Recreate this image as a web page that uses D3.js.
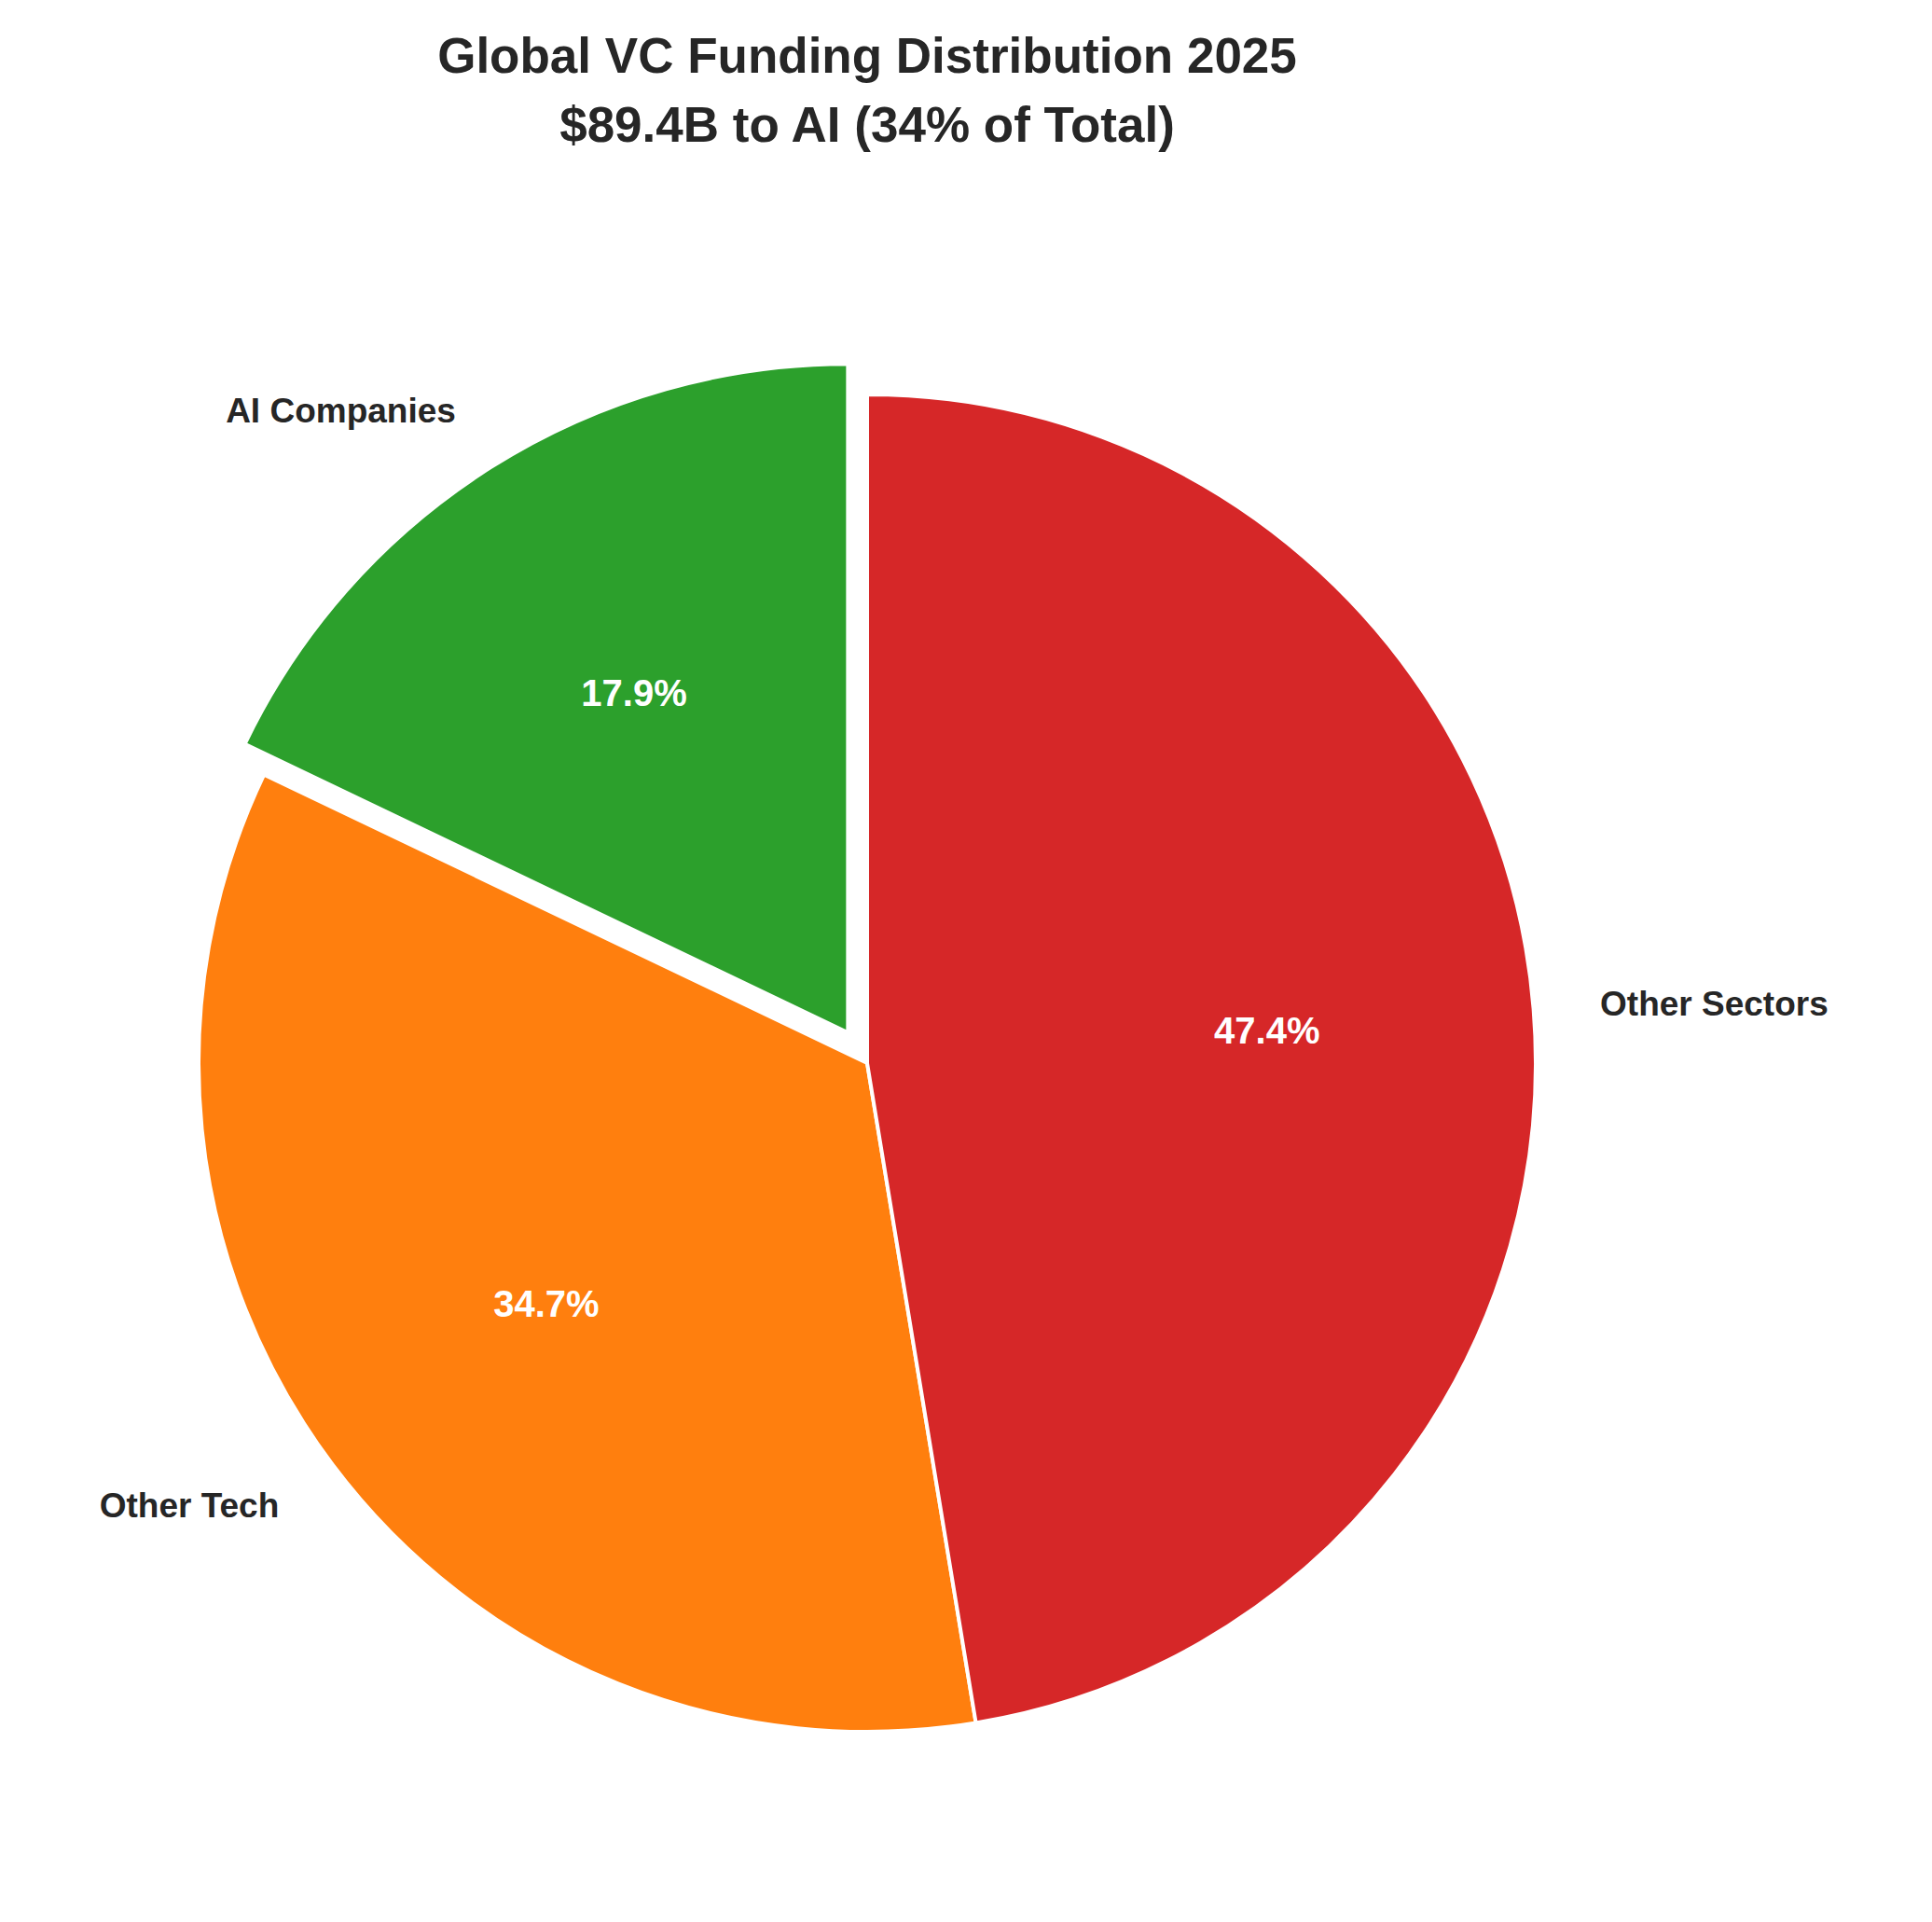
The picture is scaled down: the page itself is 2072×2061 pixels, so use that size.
<!DOCTYPE html><html><head><meta charset="utf-8"><script src="https://cdn.jsdelivr.net/npm/d3@7"></script>
<style>body{margin:0;background:#fff}</style></head><body><script>
const categories=["AI Companies","Other Tech","Other Sectors"];
const values=[17.9,34.7,47.4];
const colors=["#2ca02c","#ff7f0e","#d62728"];
const explode=[0.05,0,0];
const W=2072,H=2061,cx=930,cy=1140,r=717;
const svg=d3.select("body").append("svg").attr("width",W).attr("height",H).style("font-family","'Liberation Sans',Arial,sans-serif");
svg.append("text").attr("x",cx).attr("y",78).attr("text-anchor","middle").attr("font-size",53).attr("font-weight","bold").attr("fill","#262626").text("Global VC Funding Distribution 2025");
svg.append("text").attr("x",cx).attr("y",152).attr("text-anchor","middle").attr("font-size",53).attr("font-weight","bold").attr("fill","#262626").text("$89.4B to AI (34% of Total)");
const pie=d3.pie().sort(null).startAngle(0).endAngle(-2*Math.PI);
const arcs=pie(values);
const arc=d3.arc().innerRadius(0).outerRadius(r);
const g=svg.append("g").attr("transform",`translate(${cx},${cy})`);
arcs.forEach((a,i)=>{
  const mid=(a.startAngle+a.endAngle)/2;
  const dx=Math.sin(mid)*explode[i]*r*1.08, dy=-Math.cos(mid)*explode[i]*r*1.08;
  const s=g.append("g").attr("transform",`translate(${dx},${dy})`);
  s.append("path").attr("d",arc(a)).attr("fill",colors[i]).attr("stroke","#fff").attr("stroke-width",4);
  s.append("text").attr("x",Math.sin(mid)*r*0.6).attr("y",-Math.cos(mid)*r*0.6).attr("dy","0.35em").attr("text-anchor","middle").attr("font-size",40).attr("font-weight","bold").attr("fill","#fff").text(values[i].toFixed(1)+"%");
  const lx=Math.sin(mid)*r*1.1, ly=-Math.cos(mid)*r*1.1;
  s.append("text").attr("x",lx).attr("y",ly).attr("dy","0.35em").attr("text-anchor",lx<0?"end":"start").attr("font-size",37).attr("font-weight","bold").attr("fill","#262626").text(categories[i]);
});
</script></body></html>
